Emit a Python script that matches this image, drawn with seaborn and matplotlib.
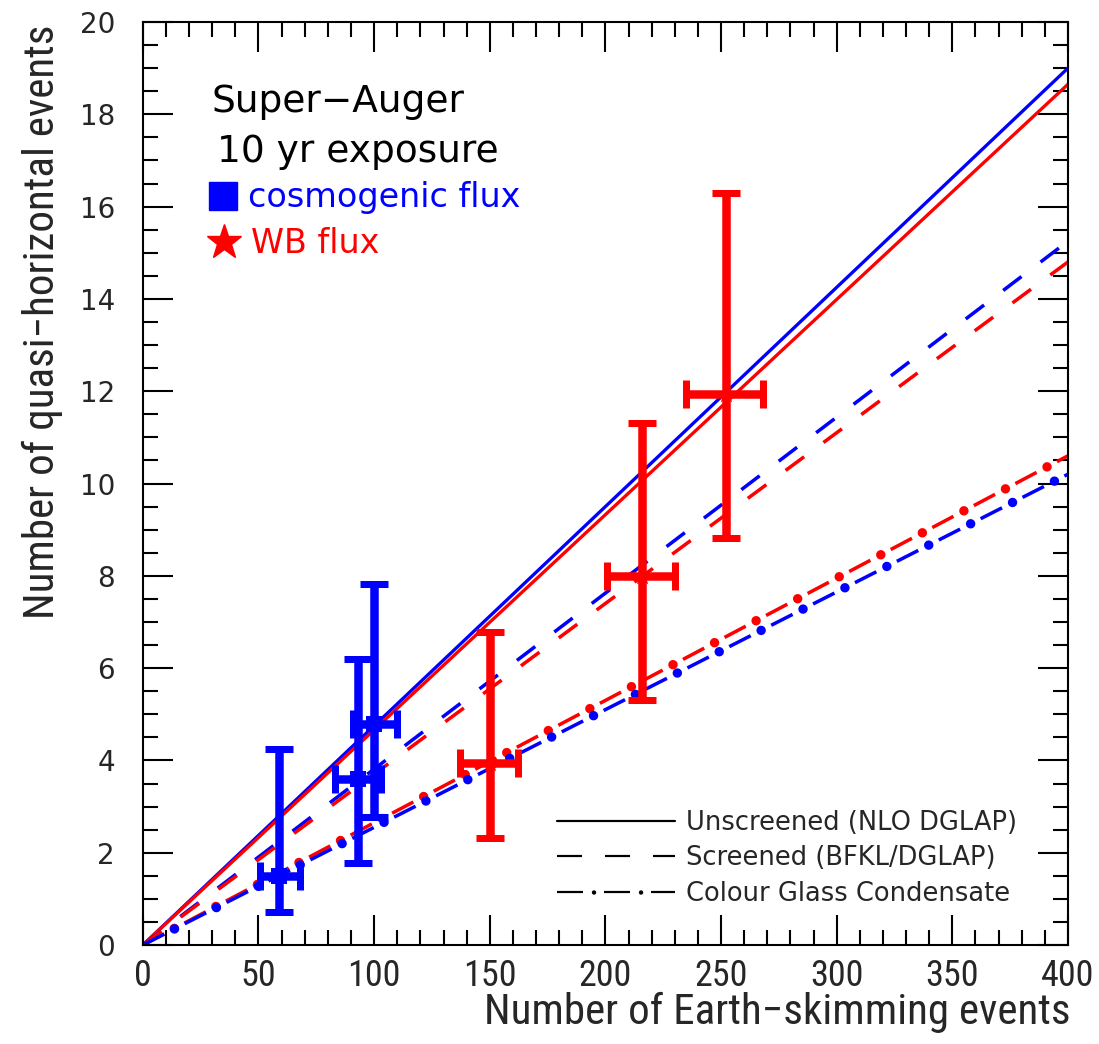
import numpy as np
import pandas as pd
import matplotlib
matplotlib.use("Agg")
import matplotlib.pyplot as plt
from matplotlib.lines import Line2D
from matplotlib.ticker import MultipleLocator
from matplotlib import font_manager as fm
import seaborn as sns

# ---------------- data ----------------
x_range = [0, 400]
unscreened_cosmo = [0.0, 19.0]
unscreened_wb = [0.0, 18.65]
screened_cosmo = [0.0, 15.25]
screened_wb = [0.0, 14.8]
cgc_cosmo = [0.0, 10.2]
cgc_wb = [0.0, 10.6]

cosmo_x = [59, 93, 100]
cosmo_x_lo = [50.5, 83, 91]
cosmo_x_hi = [68, 103, 110]
cosmo_y = [1.5, 3.6, 4.8]
cosmo_y_lo = [0.72, 1.78, 2.77]
cosmo_y_hi = [4.25, 6.2, 7.82]

wb_x = [150, 216, 252]
wb_x_lo = [137, 200.5, 235]
wb_x_hi = [162, 230, 268]
wb_y = [3.95, 8.0, 11.95]
wb_y_lo = [2.32, 5.3, 8.82]
wb_y_hi = [6.78, 11.31, 16.3]

x_ticks = [0, 50, 100, 150, 200, 250, 300, 350, 400]
y_ticks = [0, 2, 4, 6, 8, 10, 12, 14, 16, 18, 20]

BLUE = "#0000ff"
RED = "#ff0000"

# ---------------- style ----------------
sns.set_style("ticks")
plt.rcParams["lines.scale_dashes"] = False


def pick(*names):
    for n in names:
        try:
            fm.findfont(fm.FontProperties(family=n), fallback_to_default=False)
            return n
        except Exception:
            pass
    return "DejaVu Sans"


narrow = pick("Liberation Sans Narrow", "DejaVu Sans Condensed", "Roboto Condensed", "Liberation Sans")
plt.rcParams["font.family"] = ["DejaVu Sans"]

PX = 0.72  # points per pixel at dpi 100

fig = plt.figure(figsize=(10.99, 10.44), dpi=100)
ax = fig.add_axes([0.130, 0.0948, 0.8417, 0.8841])


def line(y, color, kind):
    d = pd.DataFrame({"x": x_range, "y": y})
    if kind == "solid":
        sns.lineplot(data=d, x="x", y="y", color=color, lw=3.3 * PX, ax=ax, legend=False)
    elif kind == "dashed":
        sns.lineplot(data=d, x="x", y="y", color=color, lw=3.5 * PX, ax=ax, legend=False,
                     linestyle=(0, (23 * PX, 24 * PX)))
    else:
        sns.lineplot(data=d, x="x", y="y", color=color, lw=3.5 * PX, ax=ax, legend=False,
                     linestyle=(0, (24 * PX, 23 * PX)))
        ln = sns.lineplot(data=d, x="x", y="y", color=color, lw=9.5 * PX, ax=ax, legend=False,
                          linestyle=((47 - 35.5) * PX, (0.01, 47 * PX))).lines[-1]
        ln.set_dash_capstyle("round")


line(unscreened_cosmo, BLUE, "solid")
line(unscreened_wb, RED, "solid")
line(screened_cosmo, BLUE, "dashed")
line(screened_wb, RED, "dashed")
line(cgc_wb, RED, "cgc")
line(cgc_cosmo, BLUE, "cgc")


def points(x, xlo, xhi, y, ylo, yhi, color, marker, ms):
    x = np.array(x); y = np.array(y)
    xerr = [x - np.array(xlo), np.array(xhi) - x]
    yerr = [y - np.array(ylo), np.array(yhi) - y]
    ax.errorbar(x, y, xerr=xerr, yerr=yerr, fmt="none", ecolor=color,
                elinewidth=8.5 * PX, capsize=14 * PX, capthick=7 * PX, zorder=5)
    sns.scatterplot(x=x, y=y, marker=marker, s=ms, color=color, edgecolor=color,
                    linewidth=0, ax=ax, zorder=6, legend=False)


points(cosmo_x, cosmo_x_lo, cosmo_x_hi, cosmo_y, cosmo_y_lo, cosmo_y_hi, BLUE, "s", 120)
points(wb_x, wb_x_lo, wb_x_hi, wb_y, wb_y_lo, wb_y_hi, RED, "*", 200)

# ---------------- axes ----------------
ax.set_xlim(0, 400)
ax.set_ylim(0, 20)
ax.set_xticks(x_ticks)
ax.set_yticks(y_ticks)
ax.xaxis.set_minor_locator(MultipleLocator(10))
ax.yaxis.set_minor_locator(MultipleLocator(0.5))
ax.tick_params(which="both", direction="in", top=True, right=True, width=1.5, color="black")
ax.tick_params(which="major", length=30 * PX)
ax.tick_params(which="minor", length=15 * PX)
ax.tick_params(axis="y", which="major", pad=20, labelsize=20)
ax.tick_params(axis="x", which="major", pad=9, labelsize=26)
for lab in ax.get_xticklabels():
    lab.set_family(narrow)
for s in ax.spines.values():
    s.set_linewidth(1.5)
    s.set_color("black")
    s.set_visible(True)

ax.set_xlabel("Number of Earth\u2212skimming events", loc="right", fontsize=31, family=narrow)
ax.xaxis.set_label_coords(1.003, -0.051)
ax.set_ylabel("Number of quasi\u2212horizontal events", loc="top", fontsize=31, family=narrow)
ax.yaxis.set_label_coords(-0.086, 0.997)

# ---------------- annotations ----------------
ax.text(0.0746, 0.9025, "Super\u2212Auger", transform=ax.transAxes, fontsize=27,
        va="baseline", ha="left", color="black")
ax.text(0.0800, 0.848, "10 yr exposure", transform=ax.transAxes, fontsize=27,
        va="baseline", ha="left", color="black")
ax.text(0.1135, 0.7996, "cosmogenic flux", transform=ax.transAxes, fontsize=24,
        va="baseline", ha="left", color=BLUE)
ax.text(0.1165, 0.7497, "WB flux", transform=ax.transAxes, fontsize=24,
        va="baseline", ha="left", color=RED)
ax.plot([0.0865], [0.8115], marker="s", ms=28 * PX, color=BLUE, transform=ax.transAxes,
        clip_on=False, lw=0)
ax.plot([0.0876], [0.7617], marker="*", ms=36 * PX, color=RED, transform=ax.transAxes,
        clip_on=False, lw=0)

# ---------------- legend ----------------
h_solid = Line2D([], [], color="black", lw=2.2 * PX)
h_dash = Line2D([], [], color="black", lw=2.2 * PX, linestyle=(0, (25 * PX, 23 * PX)))
h_cgc_a = Line2D([], [], color="black", lw=2.2 * PX, linestyle=(0, (26 * PX, 21 * PX)))
h_cgc_b = Line2D([], [], color="black", lw=4.5 * PX, linestyle=((47 - 36.5) * PX, (0.01, 47 * PX)),
                 dash_capstyle="round")
FS = 18.5
leg = ax.legend([h_solid, h_dash, (h_cgc_a, h_cgc_b)],
                ["Unscreened (NLO DGLAP)", "Screened (BFKL/DGLAP)", "Colour Glass Condensate"],
                loc="lower left", bbox_to_anchor=(0.4476, 0.041), frameon=False,
                fontsize=FS, handlelength=118 / (FS / PX), handletextpad=0.42,
                labelspacing=0.38, borderpad=0, borderaxespad=0)

fig.savefig("out.png", dpi=100)
